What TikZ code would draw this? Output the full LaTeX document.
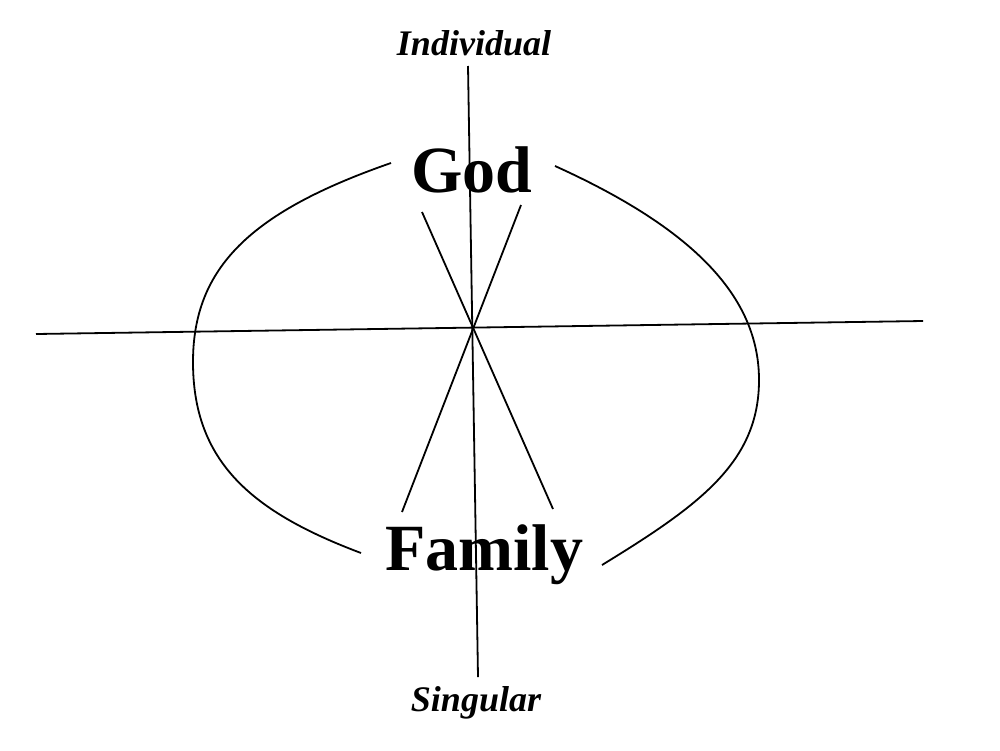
\documentclass[tikz,border=0pt]{standalone}
\usepackage{fontspec}
\setmainfont{Liberation Serif}
\begin{document}
\begin{tikzpicture}[x=1pt,y=-1pt,line width=1.8pt,
    axislabel/.style={font=\fontsize{36}{40}\selectfont\bfseries\itshape, anchor=base, inner sep=0pt},
    bigword/.style={font=\fontsize{66}{70}\selectfont\bfseries, anchor=base, inner sep=0pt}]
        \useasboundingbox (0, 0) rectangle (1000, 750);

        \coordinate (top) at (468, 66);
        \coordinate (bottom) at (478, 677);
        \coordinate (west) at (36, 334);
        \coordinate (east) at (923, 321);
        \coordinate (nw) at (422, 212);
        \coordinate (ne) at (521, 205);
        \coordinate (sw) at (402, 512);
        \coordinate (se) at (553, 509);

        \draw (top) -- (bottom);
        \draw (west) -- (east);
        \draw (nw) -- (se);
        \draw (ne) -- (sw);

        \draw (391, 163) .. controls (250, 212) and (193, 268) .. (193, 362)
              .. controls (193, 462) and (252, 512) .. (361, 553);
        \draw (555, 166) .. controls (692, 228) and (759, 296) .. (759, 380)
              .. controls (759, 462) and (700, 505) .. (602, 565);

        \node[axislabel] (individual) at (474, 55) {Individual};
        \node[axislabel] (singular) at (476, 711) {Singular};
        \node[bigword] (god) at (472, 192) {God};
        \node[bigword] (family) at (484, 570) {Family};

    \end{tikzpicture}
\end{document}
